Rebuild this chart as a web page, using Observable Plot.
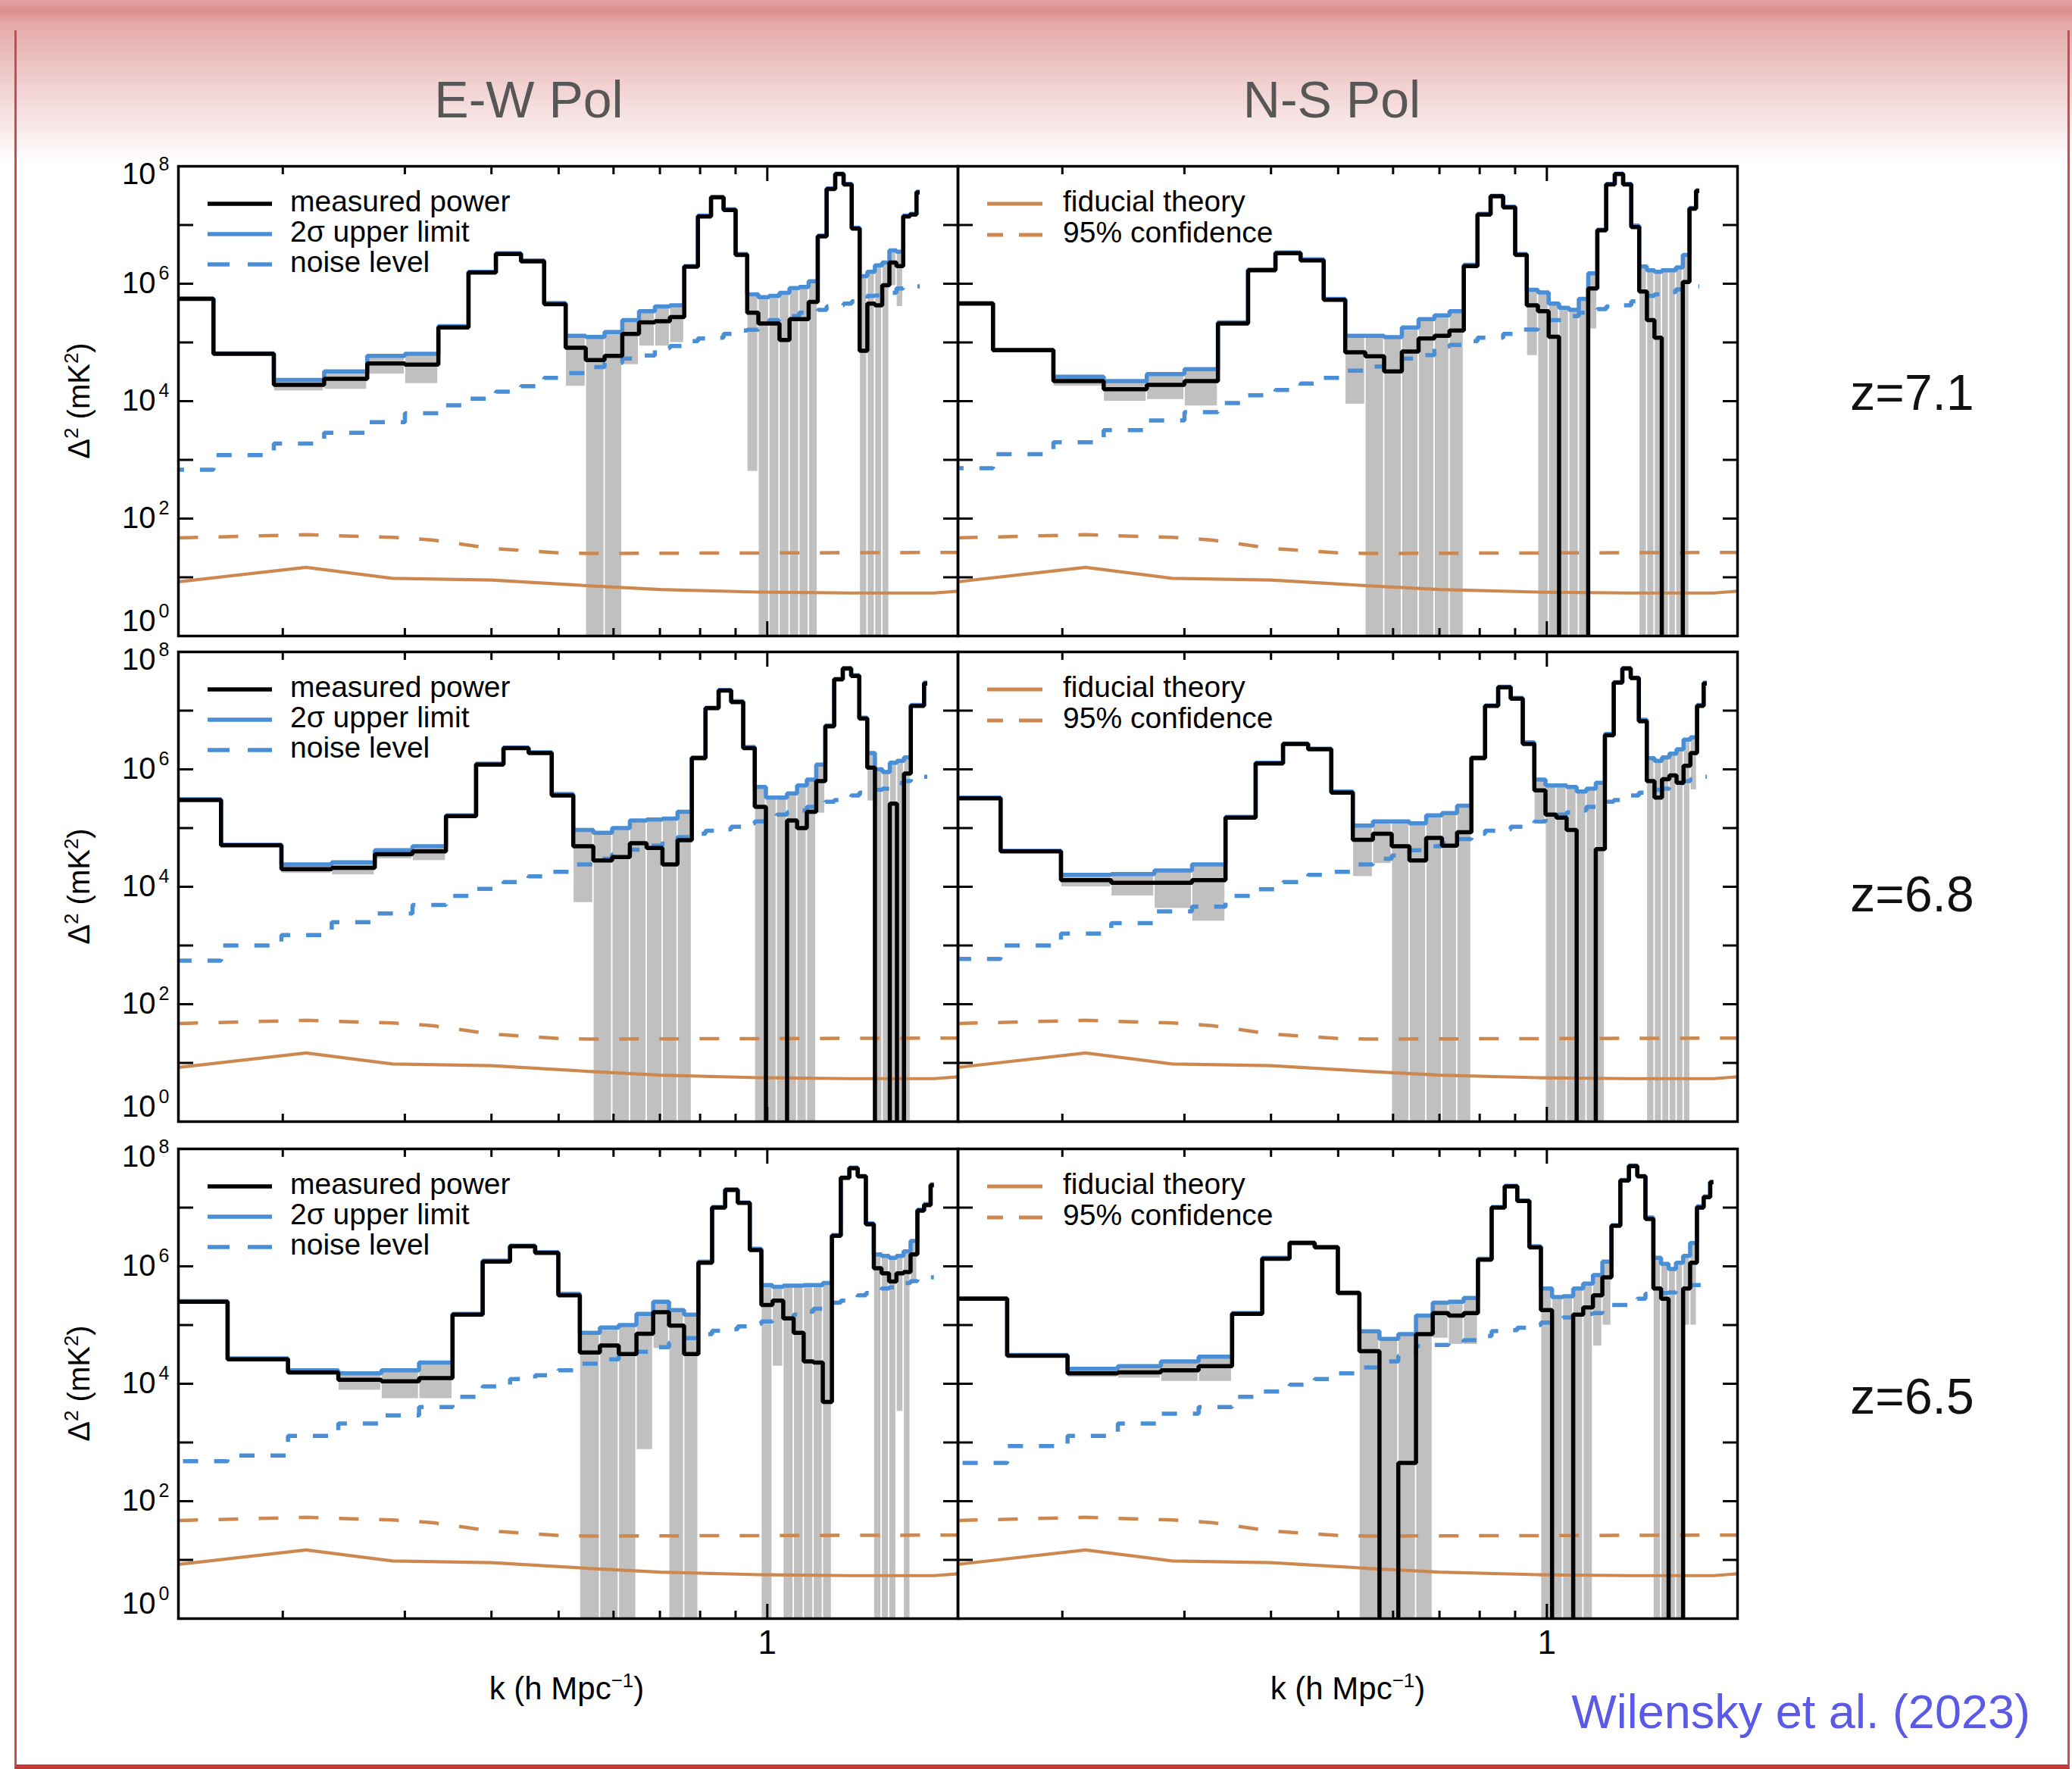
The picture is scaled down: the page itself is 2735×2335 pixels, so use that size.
<!DOCTYPE html>
<html>
<head>
<meta charset="utf-8">
<script src="https://cdn.jsdelivr.net/npm/d3@7"></script>
<script src="https://cdn.jsdelivr.net/npm/@observablehq/plot@0.6"></script>
<style>
  html, body { margin: 0; padding: 0; }
  body {
    width: 2735px; height: 2335px; position: relative; overflow: hidden;
    background: linear-gradient(180deg, #e3a2a2 0px, #dc8d8d 14px, #e5a9a9 32px, #eec6c6 90px, #f8e6e6 160px, #ffffff 218px);
    font-family: "Liberation Sans", Arial, Helvetica, sans-serif;
  }
  #border { position: absolute; left: 19px; top: 40px; width: 2707px; height: 2289px;
    border-left: 3px solid #cf4b4b; border-right: 3px solid #cf4b4b; border-bottom: 6px solid #c23a3a; }
  .panel { position: absolute; }
  #overlay { position: absolute; left: 0; top: 0; }
</style>
</head>
<body>
<div id="border"></div>
<div id="panels"></div>
<svg id="overlay" width="2735" height="2335"></svg>
<script>
// ---------------- DATA ----------------
// k bin centres (h/Mpc) for each redshift
const kBinsZ71 = [0.1412,0.1765,0.2118,0.2471,0.2824,0.3177,0.3530,0.3883,0.4236,0.4589,0.4942,
  0.5295,0.5648,0.6001,0.6354,0.6707,0.7060,0.7413,0.7766,0.8119,0.8472,0.8825,
  0.9178,0.9531,0.9884,1.0237,1.0590,1.0943,1.1296,1.1649,1.2002,1.2355,1.2708,
  1.3061,1.3414,1.3767,1.4120,1.4473,1.4826,1.5179,1.5532,1.5885,1.6238,1.6591];
const kBinsZ68 = [0.1448,0.1810,0.2172,0.2534,0.2896,0.3258,0.3620,0.3982,0.4344,0.4706,0.5068,
  0.5430,0.5792,0.6154,0.6516,0.6878,0.7240,0.7602,0.7964,0.8326,0.8688,0.9050,
  0.9412,0.9774,1.0136,1.0498,1.0860,1.1222,1.1584,1.1946,1.2308,1.2670,1.3032,
  1.3394,1.3756,1.4118,1.4480,1.4842,1.5204,1.5566,1.5928,1.6290,1.6652,1.7014];
const kBinsZ65 = [0.148,0.185,0.222,0.259,0.296,0.333,0.370,0.407,0.444,0.481,0.518,
  0.555,0.592,0.629,0.666,0.703,0.740,0.777,0.814,0.851,0.888,0.925,
  0.962,0.999,1.036,1.073,1.110,1.147,1.184,1.221,1.258,1.295,1.332,
  1.369,1.406,1.443,1.480,1.517,1.554,1.591,1.628,1.665,1.702,1.739];

// measured power (mK^2); -1 marks a negative measurement (drawn off the bottom)
// upper = 2-sigma upper limit; lower = bottom of the grey 2-sigma band (0 = below the axis)
const ew71Measured = [5.5e5,6.4e4,1.9e4,2.4e4,4.4e4,4.2e4,1.8e5,1.55e6,3.2e6,2.4e6,4.5e5,
  8.1e4,5e4,5.9e4,1.4e5,2.2e5,2.3e5,2.7e5,1.95e6,1.4e7,2.95e7,1.8e7,
  3.1e6,3.2e5,2.1e5,2.1e5,1.1e5,2.5e5,2.5e5,4.9e5,6.4e6,4.1e7,7.4e7,
  4.9e7,8.7e6,7.2e4,4.6e5,4.3e5,9.4e5,2.3e6,2e6,1.4e7,1.5e7,3.6e7];
const ew71Upper = [5.6e5,6.5e4,2.3e4,3.2e4,5.9e4,6.4e4,1.9e5,1.6e6,3.3e6,2.5e6,4.7e5,
  1.3e5,1.24e5,1.5e5,2.4e5,3.4e5,4.1e5,4.3e5,2e6,1.45e7,3e7,1.85e7,
  3.2e6,6.6e5,5.9e5,6.2e5,7e5,8.4e5,8.8e5,1.1e6,6.6e6,4.2e7,7.5e7,
  5e7,9e6,1.35e6,1.6e6,2.05e6,2.3e6,3.7e6,3.5e6,1.45e7,1.55e7,3.7e7];
const ew71Lower = [5.4e5,6.3e4,1.5e4,1.6e4,2.9e4,2e4,1.7e5,1.5e6,3.1e6,2.3e6,4.3e5,
  1.8e4,0,0,4.2e4,8.7e4,8.7e4,1e5,1.9e6,1.35e7,2.9e7,1.75e7,
  3e6,640,0,0,0,0,0,0,6.2e6,4e7,7.3e7,
  4.8e7,8.4e6,0,0,0,0,9.3e5,4.1e5,1.35e7,1.45e7,3.5e7];
const ew71Noise = [680,1.2e3,1.9e3,2.9e3,4.4e3,6.2e3,8.5e3,1.1e4,1.45e4,1.8e4,2.5e4,
  3e4,3.8e4,4.5e4,5.3e4,6e4,8e4,8.7e4,1.05e5,1.17e5,1.2e5,1.4e5,
  1.6e5,1.65e5,2e5,2.4e5,2.45e5,2.8e5,3.2e5,3.3e5,3.6e5,4.1e5,4.3e5,
  4.6e5,5e5,5.5e5,6.2e5,6.3e5,6.5e5,7e5,8.3e5,8.5e5,8.8e5,9e5];

const ns71Measured = [4.6e5,7.4e4,2.2e4,1.6e4,1.9e4,2.2e4,2.1e5,1.7e6,3.3e6,2.5e6,5.3e5,
  6.8e4,5.8e4,3.2e4,7e4,1.17e5,1.3e5,1.6e5,2e6,1.5e7,3.1e7,2e7,
  3.1e6,4.3e5,3.4e5,1.25e5,-1,-1,-1,8.3e5,8.1e6,4.9e7,7.4e7,
  4.9e7,9.2e6,7.4e5,2.4e5,1.2e5,-1,-1,-1,1.07e6,1.9e7,3.8e7];
const ns71Upper = [4.7e5,7.5e4,2.6e4,2.2e4,2.9e4,3.5e4,2.2e5,1.75e6,3.4e6,2.6e6,5.5e5,
  1.3e5,1.3e5,1.23e5,1.8e5,2.5e5,2.9e5,3.4e5,2.1e6,1.55e7,3.15e7,2.05e7,
  3.2e6,7.9e5,7.1e5,4.6e5,3.9e5,3.6e5,5.5e5,1.5e6,8.3e6,5e7,7.5e7,
  5e7,9.8e6,1.96e6,1.7e6,1.6e6,1.7e6,1.7e6,1.9e6,3.1e6,1.95e7,3.9e7];
const ns71Lower = [4.5e5,7.3e4,1.8e4,1e4,1.07e4,8.3e3,2e5,1.65e6,3.2e6,2.4e6,5.1e5,
  8.9e3,0,0,0,0,0,0,1.9e6,1.45e7,3.05e7,1.95e7,
  3e6,6e4,0,0,0,0,0,1.7e5,7.9e6,4.8e7,7.3e7,
  4.8e7,8.6e6,0,0,0,0,0,0,0,1.85e7,3.7e7];
const ns71Noise = [720,1.25e3,2e3,3.2e3,4.7e3,6.5e3,9.3e3,1.26e4,1.55e4,2e4,2.5e4,
  3.3e4,3.9e4,4.5e4,5.3e4,6.1e4,8.5e4,9.1e4,1.05e5,1.2e5,1.2e5,1.4e5,
  1.66e5,1.66e5,2.1e5,2.4e5,2.4e5,2.8e5,3.2e5,3.2e5,3.7e5,4.1e5,4.3e5,
  4.3e5,5e5,5.6e5,6.2e5,6.6e5,6.6e5,7.2e5,8e5,8.9e5,8.9e5,9e5];

const ew68Measured = [3e5,5.1e4,2e4,2.1e4,3.6e4,4e4,1.6e5,1.2e6,2.3e6,1.9e6,3.6e5,
  4.9e4,2.8e4,3.2e4,5.5e4,4.6e4,2.4e4,6.2e4,1.55e6,1.1e7,2.2e7,1.4e7,
  2.3e6,2.3e5,-1,-1,1.35e5,1e5,1.9e5,6.3e5,5.4e6,3.4e7,5.2e7,
  3.9e7,7.3e6,1.07e6,-1,-1,2.6e5,-1,8.5e5,1.2e7,1.2e7,2.9e7];
const ew68Upper = [3.1e5,5.2e4,2.4e4,2.6e4,4.2e4,4.9e4,1.65e5,1.25e6,2.35e6,1.95e6,3.8e5,
  9.3e4,8.3e4,1e5,1.35e5,1.4e5,1.45e5,1.9e5,1.6e6,1.12e7,2.25e7,1.45e7,
  2.4e6,5e5,3.3e5,3.3e5,3.9e5,5.3e5,6.7e5,1.2e6,5.6e6,3.45e7,5.3e7,
  4e7,7.6e6,1.9e6,1e6,9e5,1.3e6,1.4e6,1.6e6,1.25e7,1.25e7,3e7];
const ew68Lower = [2.9e5,5e4,1.7e4,1.6e4,3e4,2.8e4,1.55e5,1.15e6,2.25e6,1.85e6,3.4e5,
  5.4e3,0,0,0,0,0,0,1.5e6,1.08e7,2.15e7,1.35e7,
  2.2e6,0,0,0,0,0,0,1.8e5,5.2e6,3.35e7,5.1e7,
  3.8e7,7e6,2.9e5,0,0,0,0,0,1.15e7,1.15e7,2.8e7];
const ew68Noise = [550,1e3,1.5e3,2.5e3,3.5e3,4.9e3,7e3,9.2e3,1.2e4,1.5e4,1.8e4,
  2.4e4,3e4,3.6e4,4.3e4,5e4,6e4,7e4,8e4,9e4,9.5e4,1.05e5,
  1.2e5,1.3e5,1.5e5,1.7e5,1.85e5,2e5,2.3e5,2.5e5,2.8e5,3e5,3.3e5,
  3.6e5,4e5,4.3e5,4.5e5,4.7e5,5.3e5,5.8e5,6.3e5,6.8e5,7.2e5,7.5e5];

const ns68Measured = [3.2e5,4e4,1.3e4,1.17e4,1.17e4,1.3e4,1.5e5,1.26e6,2.7e6,2.2e6,4e5,
  6.3e4,8e4,4.9e4,2.8e4,6.8e4,5e4,8.5e4,1.55e6,1.2e7,2.5e7,1.6e7,
  2.7e6,4.4e5,1.7e5,1.5e5,9.3e4,-1,-1,4.4e4,3.8e6,3e7,5.2e7,
  3.6e7,6.6e6,6.3e5,3.3e5,6.8e5,7.9e5,5.9e5,1.15e6,1.9e6,1.2e7,2.9e7];
const ns68Upper = [3.3e5,4.1e4,1.6e4,1.65e4,1.9e4,2.4e4,1.55e5,1.3e6,2.75e6,2.25e6,4.2e5,
  1.1e5,1.3e5,1.3e5,1.2e5,1.65e5,1.8e5,2.4e5,1.6e6,1.22e7,2.55e7,1.65e7,
  2.9e6,6.7e5,5.3e5,5.3e5,5e5,4.2e5,4.7e5,5.9e5,4e6,3.05e7,5.3e7,
  3.65e7,7e6,1.55e6,1.4e6,1.6e6,1.85e6,2.2e6,3.2e6,3.5e6,1.25e7,3e7];
const ns68Lower = [3.1e5,3.9e4,1e4,7e3,4.3e3,2.6e3,1.45e5,1.2e6,2.65e6,2.15e6,3.8e5,
  1.5e4,2.5e4,0,0,0,0,0,1.5e6,1.18e7,2.45e7,1.55e7,
  2.5e6,1.4e5,0,0,0,0,0,0,3.6e6,2.95e7,5.1e7,
  3.55e7,6.2e6,0,0,0,0,0,0,4.5e5,1.15e7,2.8e7];
const ns68Noise = [590,1e3,1.6e3,2.4e3,3.8e3,4.6e3,7e3,9.1e3,1.2e4,1.6e4,1.8e4,
  2.4e4,3e4,3.4e4,4.2e4,4.9e4,5.5e4,6.5e4,8e4,9e4,9.5e4,1.05e5,
  1.2e5,1.3e5,1.5e5,1.7e5,1.85e5,2e5,2.3e5,2.5e5,2.8e5,3e5,3.3e5,
  3.6e5,4e5,4.3e5,4.5e5,4.7e5,5.3e5,5.8e5,6.3e5,6.8e5,7.2e5,7.5e5];

const ew65Measured = [2.5e5,2.6e4,1.56e4,1.17e4,1.1e4,1.25e4,1.5e5,1.2e6,2.2e6,1.7e6,3.2e5,
  3.4e4,4.5e4,3.2e4,7.1e4,1.66e5,9.8e4,3.2e4,1.15e6,1e7,2e7,1.2e7,
  1.9e6,2.2e5,2.6e5,1.3e5,7.4e4,2.4e4,2.3e4,4.9e3,3.3e6,3.2e7,4.7e7,
  3.4e7,5.2e6,9.3e5,7.6e5,5.5e5,7.6e5,8e5,1.6e6,8.9e6,1.1e7,2.4e7];
const ew65Upper = [2.55e5,2.7e4,1.7e4,1.5e4,1.7e4,2.3e4,1.55e5,1.25e6,2.25e6,1.75e6,3.4e5,
  7.4e4,9.1e4,1e5,1.55e5,2.5e5,1.8e5,1.5e5,1.2e6,1.02e7,2.05e7,1.22e7,
  2e6,4.8e5,4.5e5,4.7e5,4.7e5,4.8e5,4.8e5,5.2e5,3.4e6,3.25e7,4.8e7,
  3.45e7,5.4e6,1.6e6,1.5e6,1.4e6,1.5e6,1.8e6,2.7e6,9.2e6,1.15e7,2.5e7];
const ew65Lower = [2.45e5,2.5e4,1.4e4,7.8e3,5.6e3,5.6e3,1.45e5,1.15e6,2.15e6,1.65e6,3e5,
  0,0,0,760,4e4,0,0,1.1e6,9.8e6,1.95e7,1.18e7,
  1.8e6,0,2e4,0,0,0,0,0,3.2e6,3.15e7,4.6e7,
  3.35e7,5e6,0,0,0,3.4e3,0,6e5,8.6e6,1.05e7,2.3e7];
const ew65Noise = [480,600,1.3e3,2.1e3,2.9e3,4e3,6e3,9e3,1.2e4,1.4e4,1.7e4,
  2.2e4,2.6e4,3e4,3.5e4,4.2e4,5e4,6e4,7e4,8e4,8.5e4,9.5e4,
  1.05e5,1.15e5,1.25e5,1.3e5,1.5e5,1.7e5,1.9e5,2.1e5,2.4e5,2.6e5,2.8e5,
  3.2e5,3.5e5,3.8e5,4.2e5,4.4e5,4.8e5,5.2e5,5.6e5,6e5,6.3e5,6.5e5];

const ns65Measured = [2.8e5,3e4,1.5e4,1.56e4,1.7e4,2e4,1.55e5,1.35e6,2.5e6,2.1e6,3.5e5,
  3.6e4,-1,450,7e4,1.6e5,1.45e5,1.6e5,1.3e6,1e7,2.3e7,1.3e7,
  2.1e6,1.8e5,-1,-1,1.5e5,2e5,3.2e5,6.5e5,4.9e6,2.9e7,5.1e7,
  3.4e7,6.4e6,4.2e5,2.8e5,-1,-1,4.2e5,1.15e6,1e7,1.5e7,2.7e7];
const ns65Upper = [2.85e5,3.1e4,1.8e4,2e4,2.4e4,2.9e4,1.6e5,1.4e6,2.55e6,2.15e6,3.6e5,
  7.8e4,5.8e4,7e4,1.45e5,2.4e5,2.5e5,2.9e5,1.35e6,1.02e7,2.35e7,1.32e7,
  2.2e6,4.2e5,3e5,3.1e5,4.2e5,5.1e5,7.1e5,1.2e6,5e6,2.95e7,5.2e7,
  3.45e7,6.8e6,1.4e6,1.1e6,9e5,1.15e6,1.5e6,2.5e6,1.05e7,1.55e7,2.75e7];
const ns65Lower = [2.75e5,2.9e4,1.3e4,1.25e4,1.1e4,1.1e4,1.5e5,1.3e6,2.45e6,2.05e6,3.4e5,
  0,0,0,0,6e4,4.7e4,4.7e4,1.25e6,9.8e6,2.25e7,1.28e7,
  2e6,0,0,0,0,0,4.4e4,1e5,4.8e6,2.85e7,5e7,
  3.35e7,6e6,0,0,0,0,1e5,1e5,9.5e6,1.45e7,2.6e7];
const ns65Noise = [450,870,1.3e3,2.1e3,3.1e3,4e3,6e3,7.4e3,9.6e3,1.2e4,1.5e4,
  1.9e4,2.4e4,3e4,4.4e4,4.6e4,5e4,5.5e4,6.5e4,7.9e4,8.2e4,9e4,
  1e5,1.1e5,1.2e5,1.35e5,1.5e5,1.55e5,1.6e5,1.9e5,2.2e5,2.2e5,2.3e5,
  2.8e5,3.4e5,3.5e5,3.5e5,3.6e5,4e5,4.4e5,4.8e5,4.8e5,4.8e5,4.9e5];

// fiducial theory and its 95% confidence level
const theoryK = [0.1414,0.216,0.288,0.40,0.55,0.70,0.97,1.32,1.74,1.884];
const theoryFiducial = [8.4,14.8,9.6,9.0,7.2,6.2,5.6,5.4,5.4,5.8];
const confK = [0.1414,0.216,0.288,0.33,0.40,0.50,0.55,1.884];
const confLevel = [47,53,48,43,31,26,25.5,26.5];

// axes
const kMinorTicks = [0.2,0.3,0.4,0.5,0.6,0.7,0.8,0.9];
const kMajorTicks = [1];
const kTickLabels = [1];
const yTickValues = [1,1e1,1e2,1e3,1e4,1e5,1e6,1e7,1e8];
const yLabelPowers = [0,2,4,6,8];
const colTitles = ["E-W Pol", "N-S Pol"];
const rowLabels = ["z=7.1", "z=6.8", "z=6.5"];
const legendEW = ["measured power", "2\u03c3 upper limit", "noise level"];
const legendNS = ["fiducial theory", "95% confidence"];
const creditText = "Wilensky et al. (2023)";

// ---------------- STYLE / LAYOUT ----------------
const X_DOMAIN = [0.1414, 1.884];
const Y_DOMAIN = [1, 1e8];
const COL_X = [235, 1264], COL_W = 1029;
const ROW_Y = [219, 860, 1516], ROW_H = 620;
const BLUE = "#4a8ed6", ORANGE = "#cd8850", GRAY = "#c0c0c0";
const FONT = "'Liberation Sans', Arial, Helvetica, sans-serif";
const FLOOR = 1e-3; // values <= 0 are drawn below the axis and clipped

const pos = v => (v > 0 ? v : FLOOR);

function binTable(k, P, U, L, N) {
  const dk = k[1] - k[0];
  return k.map((kk, i) => ({
    x1: i === 0 ? kk - dk / 2 : (k[i - 1] + kk) / 2,
    x2: i === k.length - 1 ? kk : (kk + k[i + 1]) / 2,
    P: P[i], U: U[i], L: L[i], N: N[i]
  }));
}
function stepPoints(bins, key) {
  return bins.flatMap(b => [{x: b.x1, y: pos(b[key])}, {x: b.x2, y: pos(b[key])}]);
}
const theoryPts = theoryK.map((k, i) => ({k, v: theoryFiducial[i]}));
const confPts = confK.map((k, i) => ({k, v: confLevel[i]}));

const panels = [
  {row: 0, col: 0, k: kBinsZ71, P: ew71Measured, U: ew71Upper, L: ew71Lower, N: ew71Noise},
  {row: 0, col: 1, k: kBinsZ71, P: ns71Measured, U: ns71Upper, L: ns71Lower, N: ns71Noise},
  {row: 1, col: 0, k: kBinsZ68, P: ew68Measured, U: ew68Upper, L: ew68Lower, N: ew68Noise},
  {row: 1, col: 1, k: kBinsZ68, P: ns68Measured, U: ns68Upper, L: ns68Lower, N: ns68Noise},
  {row: 2, col: 0, k: kBinsZ65, P: ew65Measured, U: ew65Upper, L: ew65Lower, N: ew65Noise},
  {row: 2, col: 1, k: kBinsZ65, P: ns65Measured, U: ns65Upper, L: ns65Lower, N: ns65Noise}
];

const lineStyle = {strokeLinejoin: "miter", strokeLinecap: "butt", clip: true};

for (const p of panels) {
  const isLeft = p.col === 0, isBottom = p.row === 2;
  const mL = isLeft ? 140 : 12, mR = 12, mT = 12, mB = isBottom ? 80 : 12;
  const bins = binTable(p.k, p.P, p.U, p.L, p.N);
  const labels = yLabelPowers.map(e => ({v: Math.pow(10, e), e}));
  const marks = [
    Plot.rect(bins, {x1: "x1", x2: "x2", y1: d => pos(d.L), y2: "U", fill: GRAY, insetLeft: 0.9, insetRight: 0.9, clip: true}),
    Plot.line(stepPoints(bins, "N"), {x: "x", y: "y", stroke: BLUE, strokeWidth: 5.5, strokeDasharray: "20,21", ...lineStyle}),
    Plot.line(confPts, {x: "k", y: "v", stroke: ORANGE, strokeWidth: 4.5, strokeDasharray: "26,27", ...lineStyle}),
    Plot.line(theoryPts, {x: "k", y: "v", stroke: ORANGE, strokeWidth: 4.2, ...lineStyle}),
    Plot.line(stepPoints(bins, "U"), {x: "x", y: "y", stroke: BLUE, strokeWidth: 5.5, ...lineStyle}),
    Plot.line(stepPoints(bins, "P"), {x: "x", y: "y", stroke: "black", strokeWidth: 5.5, ...lineStyle}),
    Plot.axisX({anchor: "bottom", ticks: kMinorTicks, tickSize: -10, fill: "none", strokeWidth: 3}),
    Plot.axisX({anchor: "top", ticks: kMinorTicks, tickSize: -10, fill: "none", strokeWidth: 3}),
    Plot.axisX({anchor: "bottom", ticks: kMajorTicks, tickSize: -19, fill: "none", strokeWidth: 3}),
    Plot.axisX({anchor: "top", ticks: kMajorTicks, tickSize: -19, fill: "none", strokeWidth: 3}),
    Plot.axisY({anchor: "left", ticks: yTickValues, tickSize: -20, fill: "none", strokeWidth: 3}),
    Plot.axisY({anchor: "right", ticks: yTickValues, tickSize: -20, fill: "none", strokeWidth: 3}),
    Plot.frame({stroke: "black", strokeWidth: 3.5})
  ];
  if (isLeft) {
    const mid = labels.filter(d => d.e > 0 && d.e < 8);
    const top = labels.filter(d => d.e === 8);
    const bot = labels.filter(d => d.e === 0);
    for (const [set, off] of [[mid, 0], [top, 11], [bot, -19]]) {
      marks.push(Plot.text(set, {y: "v", frameAnchor: "left", text: () => "10", textAnchor: "end", dx: -30, dy: off, fontSize: 40, fill: "black"}));
      marks.push(Plot.text(set, {y: "v", frameAnchor: "left", text: d => String(d.e), textAnchor: "end", dx: -12, dy: off - 14, fontSize: 25, fill: "black"}));
    }
  }
  if (isBottom) {
    marks.push(Plot.text(kTickLabels, {x: d => d, frameAnchor: "bottom", text: d => String(d), dy: 46, fontSize: 44, fill: "black"}));
  }
  const svg = Plot.plot({
    width: mL + COL_W + mR,
    height: mT + ROW_H + mB,
    marginLeft: mL, marginRight: mR, marginTop: mT, marginBottom: mB,
    x: {type: "log", domain: X_DOMAIN},
    y: {type: "log", domain: Y_DOMAIN},
    style: `background: transparent; font-family: ${FONT}; overflow: visible; max-width: none; color: black;`,
    marks
  });
  const div = document.createElement("div");
  div.className = "panel";
  div.style.left = (COL_X[p.col] - mL) + "px";
  div.style.top = (ROW_Y[p.row] - mT) + "px";
  div.appendChild(svg);
  document.getElementById("panels").appendChild(div);
}

// ---------------- ANNOTATIONS ----------------
const ov = d3.select("#overlay").attr("font-family", FONT);
// column titles
[698, 1758].forEach((x, i) => ov.append("text").attr("x", x).attr("y", 155)
  .attr("text-anchor", "middle").attr("font-size", 68).attr("fill", "#575757").text(colTitles[i]));
// redshift labels
[541, 1203, 1866].forEach((y, i) => ov.append("text").attr("x", 2524).attr("y", y)
  .attr("text-anchor", "middle").attr("font-size", 66).attr("fill", "#111").text(rowLabels[i]));
// y axis labels
ROW_Y.forEach(y0 => {
  const cy = y0 + ROW_H / 2;
  const t = ov.append("text").attr("transform", `translate(118,${cy}) rotate(-90)`)
    .attr("text-anchor", "middle").attr("font-size", 40).attr("fill", "black");
  t.append("tspan").text("\u0394");
  t.append("tspan").attr("dy", -15).attr("font-size", 26).text("2");
  t.append("tspan").attr("dy", 15).text(" (mK");
  t.append("tspan").attr("dy", -15).attr("font-size", 26).text("2");
  t.append("tspan").attr("dy", 15).text(")");
});
// x axis labels
[748, 1779].forEach(x => {
  const t = ov.append("text").attr("x", x).attr("y", 2243).attr("text-anchor", "middle")
    .attr("font-size", 42).attr("fill", "black");
  t.append("tspan").text("k (h Mpc");
  t.append("tspan").attr("dy", -16).attr("font-size", 26).text("\u22121");
  t.append("tspan").attr("dy", 16).text(")");
});
// credit
ov.append("text").attr("x", 2680).attr("y", 2281).attr("text-anchor", "end")
  .attr("font-size", 63).attr("fill", "#5a5ae6").text(creditText);
// legends
ROW_Y.forEach(y0 => {
  // E-W panel legend
  const exL = COL_X[0];
  const ewStyles = [
    {stroke: "black", dash: null},
    {stroke: BLUE, dash: null},
    {stroke: BLUE, dash: "29,24,40"}
  ];
  legendEW.forEach((label, i) => {
    const y = y0 + 50 + 40 * i;
    const ln = ov.append("line").attr("x1", exL + 39).attr("x2", exL + 124).attr("y1", y).attr("y2", y)
      .attr("stroke", ewStyles[i].stroke).attr("stroke-width", 5.5);
    if (ewStyles[i].dash) ln.attr("stroke-dasharray", ewStyles[i].dash);
    ov.append("text").attr("x", exL + 148).attr("y", y + 10).attr("font-size", 39).attr("fill", "black").text(label);
  });
  // N-S panel legend
  const nxL = COL_X[1];
  legendNS.forEach((label, i) => {
    const y = y0 + 50 + 41 * i;
    const ln = ov.append("line").attr("x1", nxL + 39).attr("x2", nxL + 112).attr("y1", y).attr("y2", y)
      .attr("stroke", ORANGE).attr("stroke-width", 5);
    if (i === 1) ln.attr("stroke-dasharray", "21,21,40");
    ov.append("text").attr("x", nxL + 139).attr("y", y + 10).attr("font-size", 39).attr("fill", "black").text(label);
  });
});
</script>
</body>
</html>
